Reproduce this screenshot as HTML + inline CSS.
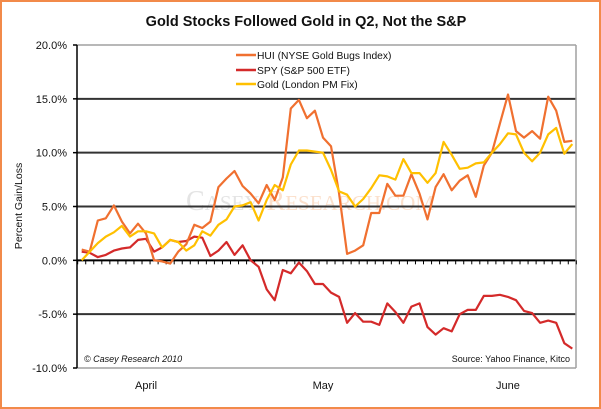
<!DOCTYPE html>
<html><head><meta charset="utf-8"><style>
html,body{margin:0;padding:0;background:#fff}
svg{display:block;font-family:"Liberation Sans",Calibri,sans-serif}
</style></head><body>
<svg id="chart" width="601" height="409" viewBox="0 0 601 409">
<rect x="1" y="1" width="599" height="407" fill="#fff" stroke="#f28a4a" stroke-width="2"/>
<text x="306" y="26" text-anchor="middle" font-size="14.5" font-weight="bold" fill="#111">Gold Stocks Followed Gold in Q2, Not the S&amp;P</text>
<text transform="translate(22,206) rotate(-90)" text-anchor="middle" font-size="10.5" fill="#111">Percent Gain/Loss</text>
<text x="310" y="210" text-anchor="middle" font-size="28" font-family="Liberation Serif,serif" fill="#e4e4e4">C<tspan font-size="21">ASEY</tspan> <tspan fill="#fbe0cc">R<tspan font-size="21">ESEARCH.COM</tspan></tspan></text>
<g id="grid"></g>
<g id="series"></g>
<g id="legend">
<line x1="236" y1="55" x2="256" y2="55" stroke="#f07030" stroke-width="2.5"/>
<text x="257" y="59" font-size="10.3" fill="#111">HUI (NYSE Gold Bugs Index)</text>
<line x1="236" y1="70" x2="256" y2="70" stroke="#d42a2a" stroke-width="2.5"/>
<text x="257" y="74" font-size="10.3" fill="#111">SPY (S&amp;P 500 ETF)</text>
<line x1="236" y1="84" x2="256" y2="84" stroke="#ffc000" stroke-width="2.5"/>
<text x="257" y="88" font-size="10.3" fill="#111">Gold (London PM Fix)</text>
</g>
<text x="84" y="362" font-size="9" font-style="italic" fill="#111">© Casey Research 2010</text>
<text x="570" y="362" text-anchor="end" font-size="9" fill="#111">Source: Yahoo Finance, Kitco</text>
</svg>
<script>
const yTicks=[20,15,10,5,0,-5,-10];
const monthLabels=["April","May","June"];
const monthIndex=[8,30,53];
const hui=[1.0,0.8,3.7,3.9,5.1,3.6,2.5,3.4,2.5,0,-0.1,-0.3,0.8,1.5,3.3,3.0,3.6,6.8,7.6,8.3,6.9,6.2,5.3,7.0,5.6,7.7,14.1,14.9,13.2,13.9,11.4,10.6,6.2,0.6,0.9,1.4,4.4,4.4,7.1,6.0,6.0,8.0,6.2,3.8,6.8,8.0,6.5,7.4,7.9,5.9,8.8,10.0,12.7,15.4,12.0,11.4,12.0,11.3,15.2,13.9,11.0,11.1];
const spy=[0.8,0.7,0.3,0.5,0.9,1.1,1.2,1.9,2.0,0.8,1.2,1.9,1.7,1.8,2.2,2.1,0.4,0.9,1.7,0.5,1.4,0,-0.6,-2.7,-3.7,-0.9,-1.2,-0.2,-1.0,-2.2,-2.2,-3.0,-3.4,-5.8,-4.9,-5.7,-5.7,-6.0,-4.0,-4.8,-5.8,-4.3,-4.0,-6.2,-6.9,-6.3,-6.6,-5.0,-4.6,-4.6,-3.3,-3.3,-3.2,-3.4,-3.7,-4.7,-4.9,-5.8,-5.6,-5.8,-7.7,-8.2];
const gold=[0,0.8,1.6,2.2,2.6,3.2,2.2,2.7,2.7,2.5,1.2,1.9,1.7,0.9,1.4,2.7,2.3,3.3,3.8,5.0,5.1,5.4,3.7,5.6,7.0,6.5,8.9,10.2,10.2,10.1,10.0,8.4,6.4,6.1,5.0,5.7,6.7,7.9,7.8,7.5,9.4,8.1,8.1,7.2,8.1,11.0,9.8,8.5,8.6,9.0,9.1,10.0,10.8,11.8,11.7,10.0,9.2,10.0,11.7,12.3,9.9,10.8];
const NS="http://www.w3.org/2000/svg";
const L=77,R=576,T=45,B=368;
const n=hui.length;
function xs(i){return 81.7+i*(572.3-81.7)/(n-1);}
function ys(v){return T+(20-v)*(B-T)/30;}
function mk(tag,attrs,parent){const e=document.createElementNS(NS,tag);for(const k in attrs)e.setAttribute(k,attrs[k]);parent.appendChild(e);return e;}
const grid=document.getElementById('grid');
yTicks.forEach(v=>{
  const y=ys(v);
  const col=(v===20||v===-10)?"#a0a0a0":(v===0?"#000":"#333");
  const ln=mk('line',{x1:L,x2:R,y1:y,y2:y,stroke:col,'stroke-width':(v===20||v===-10)?1.5:2},grid);
  
  
  const tk=mk('line',{x1:L-4,x2:L,y1:y,y2:y,stroke:"#000",'stroke-width':1.5},grid);
  
  
  const t=mk('text',{x:L-10,y:y+4,'text-anchor':'end','font-size':11,fill:'#111'},grid);
  t.textContent=v.toFixed(1)+"%";
  
  
});
const rb=mk('line',{x1:R,x2:R,y1:T,y2:B,stroke:"#a0a0a0",'stroke-width':1.5},grid);


const ya=mk('line',{x1:L,x2:L,y1:T,y2:B,stroke:"#000",'stroke-width':1.5},grid);


for(let i=0;i<=n;i++){
  const x=81.7+(i-0.5)*(572.3-81.7)/(n-1);
  const tk=mk('line',{x1:x,x2:x,y1:ys(0),y2:ys(0)+4,stroke:"#000",'stroke-width':1},grid);
  
  
}
monthLabels.forEach((m,k)=>{
  const t=mk('text',{x:xs(monthIndex[k]),y:389,'text-anchor':'middle','font-size':11,fill:'#111'},grid);
  t.textContent=m;
  
  
});
const ser=document.getElementById('series');
[[spy,"#d42a2a","spy-line"],[hui,"#f07030","hui-line"],[gold,"#ffc000","gold-line"]].forEach(([d,c,name])=>{
  const p=mk('polyline',{points:d.map((v,i)=>xs(i).toFixed(1)+","+ys(v).toFixed(1)).join(" "),fill:"none",stroke:c,'stroke-width':2.2,'stroke-linejoin':'round'},ser);
  
  
});
</script>
</body></html>
